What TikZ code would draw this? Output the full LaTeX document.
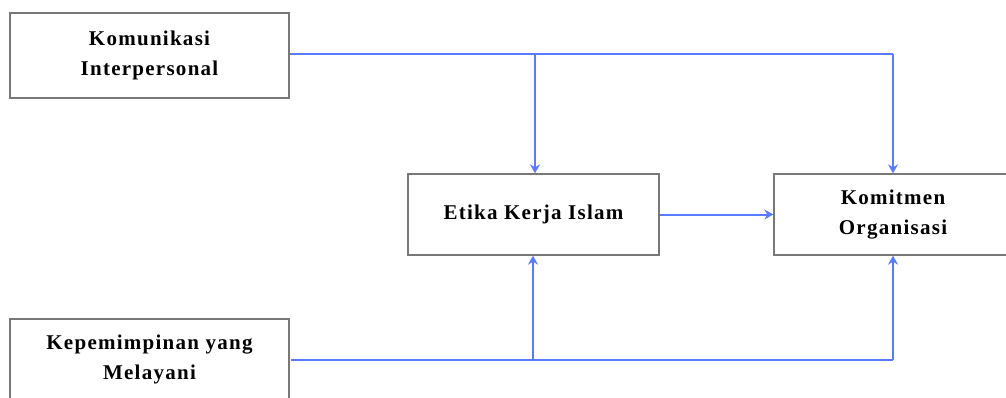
\documentclass[tikz,border=0pt]{standalone}
\usepackage{fontspec}
\newfontfamily\boxfont{Liberation Serif}[LetterSpace=6]
\usetikzlibrary{arrows.meta}
\definecolor{linkblue}{RGB}{90,122,255}
\definecolor{framegray}{RGB}{120,120,120}
\tikzset{
  varbox/.style={draw=framegray, line width=1.3pt, fill=white, inner sep=0pt,
    align=center, font=\boxfont\bfseries\fontsize{21}{30}\selectfont},
  link/.style={draw=linkblue, line width=2pt,
    -{Stealth[length=9pt,width=10pt,inset=3pt]}},
  plain/.style={draw=linkblue, line width=2pt}
}
\begin{document}
\begin{tikzpicture}[x=1pt,y=-1pt]
  \useasboundingbox (0,0) rectangle (1006,397);
  \clip (0,0) rectangle (1006,397);

  % variable boxes
  \node[varbox, minimum width=279pt, minimum height=85pt] (kom) at (149.5,55.5)
    {Komunikasi\\Interpersonal};
  \node[varbox, minimum width=251pt, minimum height=81pt] (eki) at (533.5,214.5)
    {Etika Kerja Islam};
  \node[varbox, minimum width=238pt, minimum height=81pt] (ko) at (893,214.5)
    {Komitmen\\Organisasi};
  \node[varbox, minimum width=279pt, minimum height=80pt] (kep) at (149.5,359)
    {Kepemimpinan yang\\Melayani};

  % routing points
  \coordinate (t0) at (kom.east |- 0,54);
  \coordinate (tb) at (535,54);
  \coordinate (tk) at (893,54);
  \coordinate (b0) at (291,360);
  \coordinate (bb) at (533,360);
  \coordinate (bk) at (893,360);

  % Komunikasi Interpersonal -> Etika Kerja Islam / Komitmen Organisasi
  \draw[plain] (t0) -- (tk);
  \draw[link] (tb) -- (tb |- eki.north);
  \draw[link] (tk) -- (ko.north);

  % Kepemimpinan yang Melayani -> Etika Kerja Islam / Komitmen Organisasi
  \draw[plain] (b0) -- (bk);
  \draw[link] (bb) -- (bb |- eki.south);
  \draw[link] (bk) -- (ko.south);

  % Etika Kerja Islam -> Komitmen Organisasi
  \draw[link] (eki.east) -- (ko.west);
\end{tikzpicture}
\end{document}
